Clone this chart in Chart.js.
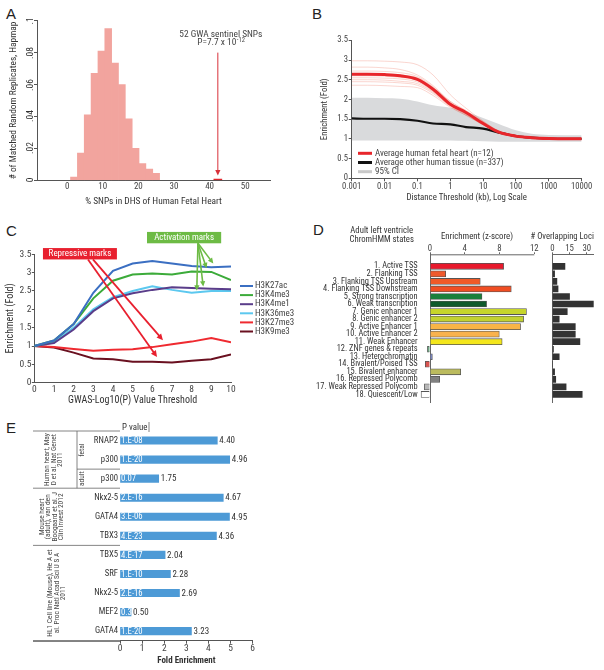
<!DOCTYPE html>
<html>
<head>
<meta charset="utf-8">
<script src="https://cdn.jsdelivr.net/npm/chart.js@4.4.1/dist/chart.umd.min.js"></script>
<style>
  body { margin: 0; width: 604px; height: 670px; position: relative; overflow: hidden; background: #fff; }
  canvas { position: absolute; }
  .letter { position: absolute; font: 15px 'Liberation Sans', Arial, sans-serif; line-height: 15px; color: #222; }
  .rtick { position: absolute; transform: translate(-50%, -50%) rotate(-90deg); font-size: 9.5px; line-height: 1;
    color: #333; white-space: nowrap; font-family: 'Roboto Condensed', 'Open Sans', sans-serif; }
</style>
</head>
<body>
<div class="letter" style="left:6px;top:6px">A</div>
<div class="letter" style="left:312px;top:6px">B</div>
<div class="letter" style="left:6px;top:223px">C</div>
<div class="letter" style="left:313px;top:222px">D</div>
<div class="letter" style="left:6px;top:420px">E</div>
<script>
// ---- A: histogram of random replicates
const snpPctA = [1.92, 3.85, 5.77, 7.69, 9.62, 11.54, 13.46, 15.38, 17.31, 19.23, 21.15, 23.08, 25.0];
const freqA = [0.002, 0.017, 0.041, 0.067, 0.081, 0.095, 0.0735, 0.060, 0.0385, 0.020, 0.0105, 0.007, 0.0044];
const sentinelPctA = 42.31;
const sentinelFreqA = 0.0008;
const xTicksA = [0, 10, 20, 30, 40, 50];
const yTicksA = [0, 0.02, 0.04, 0.06, 0.08, 0.1];
const yTickLabelsA = ['0', '.02', '.04', '.06', '.08', '.1'];

// ---- B: enrichment vs distance threshold
const distB = [0.001, 0.003, 0.01, 0.03, 0.1, 0.3, 1, 3, 10, 30, 100, 300, 1000, 10000];
const fetalMeanB = [2.64, 2.64, 2.63, 2.6, 2.51, 2.26, 1.88, 1.67, 1.39, 1.17, 1.07, 1.03, 1.01, 1.0];
const otherMeanB = [1.52, 1.51, 1.51, 1.5, 1.46, 1.39, 1.37, 1.3, 1.26, 1.16, 1.07, 1.03, 1.01, 1.0];
const ciUpperB = [2.04, 2.04, 2.03, 2.02, 1.95, 1.85, 1.79, 1.68, 1.53, 1.38, 1.22, 1.13, 1.1, 1.09];
const ciLowerB = [0.96, 0.96, 0.96, 0.96, 0.96, 0.96, 0.96, 0.95, 0.94, 0.93, 0.93, 0.93, 0.93, 0.93];
const fetalSamplesB = [
  [2.98, 2.98, 2.97, 2.95, 2.88, 2.62, 2.12, 1.78, 1.45, 1.2, 1.08, 1.03, 1.01, 1.0],
  [2.82, 2.82, 2.8, 2.76, 2.62, 2.35, 1.95, 1.7, 1.42, 1.19, 1.07, 1.03, 1.01, 1.0],
  [2.72, 2.72, 2.71, 2.68, 2.58, 2.32, 1.92, 1.68, 1.4, 1.18, 1.07, 1.03, 1.01, 1.0],
  [2.66, 2.66, 2.65, 2.62, 2.55, 2.3, 1.95, 1.72, 1.44, 1.2, 1.08, 1.03, 1.01, 1.0],
  [2.6, 2.6, 2.59, 2.56, 2.48, 2.22, 1.88, 1.66, 1.4, 1.18, 1.07, 1.03, 1.01, 1.0],
  [2.55, 2.55, 2.54, 2.52, 2.44, 2.2, 1.85, 1.64, 1.38, 1.18, 1.07, 1.03, 1.01, 1.0],
  [2.5, 2.5, 2.49, 2.46, 2.4, 2.18, 1.84, 1.62, 1.37, 1.17, 1.07, 1.03, 1.01, 1.0],
  [2.45, 2.45, 2.44, 2.42, 2.36, 2.15, 1.82, 1.6, 1.36, 1.17, 1.06, 1.03, 1.01, 1.0],
  [2.36, 2.36, 2.35, 2.33, 2.3, 2.1, 1.8, 1.6, 1.36, 1.17, 1.06, 1.03, 1.01, 1.0]
];
const xTicksB = [0.001, 0.01, 0.1, 1, 10, 100, 1000, 10000];
const xTickLabelsB = ['0.001', '0.01', '0.1', '1', '10', '100', '1000', '10000'];
const legendB = ['Average human fetal heart (n=12)', 'Average other human tissue (n=337)', '95% CI'];

// ---- C: histone marks vs GWAS threshold
const thresholdC = [0, 1, 2, 3, 4, 5, 6, 7, 8, 9, 10];
const marksC = ['H3K27ac', 'H3K4me3', 'H3K4me1', 'H3K36me3', 'H3K27me3', 'H3K9me3'];
const h3k27acC = [1.0, 1.15, 1.6, 2.45, 3.05, 3.25, 3.32, 3.25, 3.18, 3.15, 3.17];
const h3k4me3C = [1.0, 1.15, 1.6, 2.3, 2.78, 2.95, 2.98, 2.95, 3.03, 3.02, 2.8];
const h3k4me1C = [1.0, 1.08, 1.45, 1.95, 2.3, 2.44, 2.53, 2.6, 2.58, 2.56, 2.55];
const h3k36me3C = [1.0, 1.1, 1.5, 2.0, 2.33, 2.5, 2.63, 2.53, 2.45, 2.5, 2.5];
const h3k27me3C = [1.0, 0.97, 0.92, 0.87, 0.9, 0.91, 0.97, 1.05, 1.12, 1.22, 1.1];
const h3k9me3C = [1.0, 0.96, 0.82, 0.66, 0.64, 0.57, 0.57, 0.55, 0.6, 0.64, 0.77];
const colorsC = ['#3b6fc2', '#3cab3a', '#5a3d8a', '#5cc8ef', '#ef2a30', '#6a1020'];

// ---- D: ChromHMM states
const statesD = ['1. Active TSS', '2. Flanking TSS', '3. Flanking TSS Upstream', '4. Flanking TSS Downstream',
  '5. Strong transcription', '6. Weak transcription', '7. Genic enhancer 1', '8. Genic enhancer 2',
  '9. Active Enhancer 1', '10. Active Enhancer 2', '11. Weak Enhancer', '12. ZNF genes & repeats',
  '13. Heterochromatin', '14. Bivalent/Poised TSS', '15. Bivalent enhancer', '16. Repressed Polycomb',
  '17. Weak Repressed Polycomb', '18. Quiescent/Low'];
const enrichD = [8.47, 1.8, 5.78, 9.35, 5.98, 6.51, 11.1, 10.77, 10.42, 7.97, 8.3, -0.3, 0.27, -0.54, 3.53, 1.11, -0.65, -1.03];
const lociD = [11, 2, 4, 5, 15, 36, 13, 6, 20, 20, 24, 1, 6, 0, 2, 3, 12, 26];
const colorsD = ['#e8192c', '#ef5a2d', '#f05a28', '#f04e23', '#1b7f3b', '#0e5a2c', '#c6d52b', '#c2d130',
  '#f8b446', '#f9b24d', '#f3e61c', '#6ea582', '#7b87c6', '#d9534f', '#bbbb5e', '#808080', '#b8b8b8', '#ffffff'];
const xTicksD = [0, 4, 8, 12];
const xTicksLociD = [0, 15, 30];

// ---- E: cardiac TF / p300 binding
const factorsE = ['RNAP2', 'p300', 'p300', 'Nkx2-5', 'GATA4', 'TBX3', 'TBX5', 'SRF', 'Nkx2-5', 'MEF2', 'GATA4'];
const foldE = [4.40, 4.96, 1.75, 4.67, 4.95, 4.36, 2.04, 2.28, 2.69, 0.50, 3.23];
const pValueE = ['1.E-08', '1.E-20', '0.07', '2.E-16', '3.E-06', '4.E-23', '4.E-17', '1.E-10', '2.E-16', '0.3', '1.E-20'];
const studiesE = [
  { first: 0, last: 2, lines: ['Human heart, May', 'D et al. Nat Genet', '2011'] },
  { first: 3, last: 5, lines: ['Mouse heart', '(adult), van den', 'Boogaard et al. J', 'Clin Invest 2012'] },
  { first: 6, last: 10, lines: ['HL1 Cell line (Mouse), He A et', 'al. Proc Natl Acad Sci U S A', '2011'] }
];
const stagesE = [{ first: 0, last: 1, text: 'fetal' }, { first: 2, last: 2, text: 'adult' }];

const FONT = "'Roboto Condensed','Open Sans',sans-serif";
const AX = '#555';
const TXT = '#444';
Chart.defaults.font.family = FONT;
Chart.defaults.font.size = 9;
Chart.defaults.color = TXT;
Chart.defaults.animation = false;
Chart.defaults.responsive = false;
Chart.defaults.plugins.legend.display = false;
Chart.defaults.plugins.tooltip.enabled = false;
Chart.defaults.elements.point.radius = 0;

function makeCanvas(left, top, w, h) {
  const c = document.createElement('canvas');
  c.width = w; c.height = h;
  c.style.left = left + 'px'; c.style.top = top + 'px';
  document.body.appendChild(c);
  return c;
}

function drawArrow(ctx, x1, y1, x2, y2, color, width, head) {
  const a = Math.atan2(y2 - y1, x2 - x1);
  ctx.save();
  ctx.strokeStyle = color; ctx.fillStyle = color; ctx.lineWidth = width;
  ctx.beginPath();
  ctx.moveTo(x1, y1);
  ctx.lineTo(x2 - Math.cos(a) * head * 0.7, y2 - Math.sin(a) * head * 0.7);
  ctx.stroke();
  ctx.beginPath();
  ctx.moveTo(x2, y2);
  ctx.lineTo(x2 - head * Math.cos(a - 0.45), y2 - head * Math.sin(a - 0.45));
  ctx.lineTo(x2 - head * Math.cos(a + 0.45), y2 - head * Math.sin(a + 0.45));
  ctx.closePath();
  ctx.fill();
  ctx.restore();
}

const tickList = arr => s => { s.ticks = arr.map(v => ({ value: v })); };
const plainNum = v => String(+(+v).toFixed(2));

// ================= A =================
const chartA = new Chart(makeCanvas(0, 0, 300, 212), {
  type: 'bar',
  data: {
    datasets: [
      { data: snpPctA.map((x, i) => ({ x: x, y: freqA[i] })), backgroundColor: '#f2a49e',
        barPercentage: 1, categoryPercentage: 1, grouped: false },
      { data: [{ x: sentinelPctA, y: sentinelFreqA }], backgroundColor: '#e0282e', barThickness: 8, grouped: false }
    ]
  },
  options: {
    layout: { padding: { top: 20.7, right: 30, left: 0, bottom: 0 } },
    scales: {
      x: {
        type: 'linear', min: -3, max: 51.5,
        afterBuildTicks: tickList(xTicksA),
        afterFit: s => { s.height = 31.7; },
        grid: { drawOnChartArea: false, drawTicks: false, color: AX },
        border: { color: AX },
        ticks: { padding: 1, font: { size: 9 }, maxRotation: 0 },
        title: { display: true, text: '% SNPs in DHS of Human Fetal Heart', color: '#333',
          font: { size: 9.4 }, padding: { top: 0, bottom: 4.7 } }
      },
      y: {
        min: 0, max: 0.1,
        afterBuildTicks: tickList(yTicksA),
        afterFit: s => { s.width = 37; },
        ticks: { display: false },
        grid: { drawOnChartArea: false, tickLength: 3, color: AX },
        border: { color: AX },
        title: { display: true, text: '# of Matched Random Replicates, Hapmap', color: '#333',
          font: { size: 9.4 }, padding: { top: 8.4, bottom: 0 } }
      }
    }
  },
  plugins: [{
    id: 'annA',
    afterDraw(chart) {
      const { ctx, scales: { x, y } } = chart;
      ctx.save();
      ctx.textAlign = 'center';
      ctx.textBaseline = 'middle';
      const sx = x.getPixelForValue(sentinelPctA);
      drawArrow(ctx, sx, y.getPixelForValue(0.08), sx, y.getPixelForValue(0.003), '#d8313a', 1, 6);
      ctx.fillStyle = TXT;
      ctx.font = '9.4px ' + FONT;
      ctx.fillText('52 GWA sentinel SNPs', sx + 3, y.getPixelForValue(0.091));
      const base = 'P=7.7 x 10', sup = '-12';
      const wb = ctx.measureText(base).width;
      ctx.font = '6.5px ' + FONT;
      const ws = ctx.measureText(sup).width;
      const left = sx + 3 - (wb + ws) / 2;
      const ly = y.getPixelForValue(0.086);
      ctx.textAlign = 'left';
      ctx.font = '9.4px ' + FONT;
      ctx.fillText(base, left, ly);
      ctx.font = '6.5px ' + FONT;
      ctx.fillText(sup, left + wb + 0.5, ly - 3);
      ctx.restore();
    }
  }]
});

// rotated y tick labels of A, placed through the chart's own y scale
yTicksA.forEach((v, i) => {
  const d = document.createElement('div');
  d.className = 'rtick';
  d.textContent = yTickLabelsA[i];
  d.style.left = '29.5px';
  d.style.top = chartA.scales.y.getPixelForValue(v) + 'px';
  document.body.appendChild(d);
});

// ================= B =================
const pts = arr => distB.map((d, i) => ({ x: d, y: arr[i] }));
const datasetsB = [
  { data: pts(fetalMeanB), borderColor: '#e8262b', borderWidth: 3, cubicInterpolationMode: 'monotone' },
  { data: pts(otherMeanB), borderColor: '#111', borderWidth: 2.2, cubicInterpolationMode: 'monotone' }
];
fetalSamplesB.forEach(s => datasetsB.push({ data: pts(s), borderColor: 'rgba(236,100,80,0.45)', borderWidth: 0.6,
  cubicInterpolationMode: 'monotone' }));
datasetsB.push({ data: pts(ciUpperB), borderWidth: 0, borderColor: 'rgba(0,0,0,0)', backgroundColor: '#d9dadc',
  fill: '+1', cubicInterpolationMode: 'monotone' });
datasetsB.push({ data: pts(ciLowerB), borderWidth: 0, borderColor: 'rgba(0,0,0,0)', fill: false,
  cubicInterpolationMode: 'monotone' });

new Chart(makeCanvas(300, 0, 304, 212), {
  type: 'line',
  data: { datasets: datasetsB },
  options: {
    layout: { padding: { top: 40.3, right: 22.3, left: 0, bottom: 0 } },
    scales: {
      x: {
        type: 'logarithmic', min: 0.001, max: 10000,
        afterBuildTicks: tickList(xTicksB),
        afterFit: s => { s.height = 33.7; },
        grid: { drawOnChartArea: false, tickLength: 3, color: AX },
        border: { color: AX },
        ticks: { padding: 0.3, font: { size: 8.6 }, maxRotation: 0, autoSkip: false,
          callback: (v, i) => xTickLabelsB[i] },
        title: { display: true, text: 'Distance Threshold (kb), Log Scale', color: '#333',
          font: { size: 8.8 }, padding: { top: 0, bottom: 9 } }
      },
      y: {
        min: 0, max: 3.5,
        ticks: { stepSize: 0.5, padding: 0.7, font: { size: 8.6 }, callback: plainNum },
        afterFit: s => { s.width = 51.7; },
        grid: { drawOnChartArea: false, tickLength: 3, color: AX },
        border: { color: AX },
        title: { display: true, text: 'Enrichment (Fold)', color: '#333',
          font: { size: 8.8 }, padding: { top: 19.2, bottom: 0 } }
      }
    }
  },
  plugins: [{
    id: 'legB',
    afterDraw(chart) {
      const { ctx, chartArea } = chart;
      const cols = ['#e8262b', '#111', '#c9c9c9'];
      ctx.save();
      ctx.font = '9px ' + FONT;
      ctx.textBaseline = 'middle';
      ctx.fillStyle = TXT;
      legendB.forEach((t, i) => {
        const y = 153.3 + i * 9.2;
        ctx.strokeStyle = cols[i];
        ctx.lineWidth = 3;
        ctx.beginPath();
        ctx.moveTo(chartArea.left + 6.3, y);
        ctx.lineTo(chartArea.left + 20.3, y);
        ctx.stroke();
        ctx.fillText(t, chartArea.left + 23.3, y);
      });
      ctx.restore();
    }
  }]
});

// ================= C =================
const seriesC = [h3k27acC, h3k4me3C, h3k4me1C, h3k36me3C, h3k27me3C, h3k9me3C];
new Chart(makeCanvas(0, 212, 300, 200), {
  type: 'line',
  data: {
    datasets: seriesC.map((s, i) => ({ label: marksC[i], data: thresholdC.map((t, j) => ({ x: t, y: s[j] })),
      borderColor: colorsC[i], borderWidth: 2, tension: 0 }))
  },
  options: {
    layout: { padding: { top: 42.3, right: 69, left: 0, bottom: 0 } },
    scales: {
      x: {
        type: 'linear', min: 0, max: 10,
        ticks: { stepSize: 1, padding: 0.9, font: { size: 9.5 }, maxRotation: 0 },
        afterFit: s => { s.height = 29.3; },
        grid: { drawOnChartArea: false, drawTicks: false, color: AX },
        border: { color: AX },
        title: { display: true, text: 'GWAS-Log10(P) Value Threshold', color: '#333',
          font: { size: 10 }, padding: { top: 0, bottom: 5.3 } }
      },
      y: {
        min: 0, max: 3.5,
        ticks: { stepSize: 0.5, padding: 0.3, font: { size: 9.5 }, callback: plainNum },
        afterFit: s => { s.width = 34.3; },
        grid: { drawOnChartArea: false, tickLength: 2.5, color: AX },
        border: { color: AX },
        title: { display: true, text: 'Enrichment (Fold)', color: '#333',
          font: { size: 10 }, padding: { top: 4, bottom: 0 } }
      }
    }
  },
  plugins: [{
    id: 'annC',
    afterDraw(chart) {
      const { ctx, scales: { x, y } } = chart;
      const px = v => x.getPixelForValue(v), py = v => y.getPixelForValue(v);
      ctx.save();
      // legend
      ctx.font = '9px ' + FONT;
      ctx.textBaseline = 'middle';
      marksC.forEach((m, i) => {
        const ly = 74 + i * 9.1;
        ctx.strokeStyle = colorsC[i];
        ctx.lineWidth = 2;
        ctx.beginPath(); ctx.moveTo(240, ly); ctx.lineTo(253, ly); ctx.stroke();
        ctx.fillStyle = TXT;
        ctx.fillText(m, 255, ly);
      });
      // annotation boxes
      ctx.textAlign = 'center';
      ctx.fillStyle = '#6dbb45';
      ctx.fillRect(px(5.73), py(4.11), px(9.5) - px(5.73), py(3.8) - py(4.11));
      ctx.fillStyle = '#fff';
      ctx.fillText('Activation marks', (px(5.73) + px(9.5)) / 2, (py(4.11) + py(3.8)) / 2);
      ctx.fillStyle = '#e8202f';
      ctx.fillRect(px(0.44), py(3.67), px(4.2) - px(0.44), py(3.36) - py(3.67));
      ctx.fillStyle = '#fff';
      ctx.fillText('Repressive marks', (px(0.44) + px(4.2)) / 2, (py(3.67) + py(3.36)) / 2);
      // arrows
      [[9.1, 3.25], [8.76, 3.12], [8.59, 2.62], [8.26, 2.51]].forEach(e =>
        drawArrow(ctx, px(8.32), py(3.8), px(e[0]), py(e[1]), '#6dbb45', 1.6, 6));
      drawArrow(ctx, px(2.73), py(3.36), px(6.24), py(0.70), '#e8202f', 1.8, 7);
      drawArrow(ctx, px(2.98), py(3.36), px(6.54), py(1.16), '#e8202f', 1.8, 7);
      ctx.restore();
    }
  }]
});

// ================= D =================
const rowTicksD = statesD.map((s, i) => i);
new Chart(makeCanvas(300, 212, 240, 200), {
  type: 'bar',
  data: {
    datasets: [{
      data: enrichD.map((v, i) => ({ x: v, y: i })),
      backgroundColor: colorsD, borderColor: '#555', borderWidth: 0.8, barThickness: 6
    }]
  },
  options: {
    indexAxis: 'y',
    layout: { padding: { top: 0, right: 5.7, left: 0, bottom: 9 } },
    scales: {
      x: {
        type: 'linear', position: 'top', min: -1.2, max: 12,
        afterBuildTicks: tickList(xTicksD),
        afterFit: s => { s.height = 42.3; },
        grid: { color: c => c.tick && c.tick.value === 0 ? '#666' : 'rgba(0,0,0,0)', tickColor: '#666', tickLength: 2 },
        border: { display: false },
        ticks: { padding: -1.7, font: { size: 8.8 }, maxRotation: 0 },
        title: { display: true, text: 'Enrichment (z-score)', color: '#333', font: { size: 8.8 },
          padding: { top: 20, bottom: 0 } }
      },
      y: {
        type: 'linear', reverse: true, min: -1.05, max: 17.59,
        afterBuildTicks: tickList(rowTicksD),
        afterFit: s => { s.width = 119.6; },
        grid: { display: false, drawTicks: false },
        border: { display: false },
        ticks: { padding: 2, font: { size: 8.4 }, color: '#333', autoSkip: false, callback: v => statesD[v] }
      }
    }
  },
  plugins: [{
    id: 'axD',
    afterDraw(chart) {
      const { ctx, chartArea, scales: { x } } = chart;
      ctx.save();
      ctx.strokeStyle = '#666'; ctx.lineWidth = 1;
      ctx.beginPath();
      ctx.moveTo(x.getPixelForValue(0), chartArea.top + 0.5);
      ctx.lineTo(x.getPixelForValue(12), chartArea.top + 0.5);
      ctx.stroke();
      ctx.fillStyle = '#333';
      ctx.font = '8.7px ' + FONT;
      ctx.textAlign = 'center'; ctx.textBaseline = 'middle';
      ctx.fillText('Adult left ventricle', 81.7, 19);
      ctx.fillText('ChromHMM states', 81.7, 27.5);
      ctx.restore();
    }
  }]
});

new Chart(makeCanvas(515, 212, 89, 200), {
  type: 'bar',
  data: {
    datasets: [{ data: lociD.map((v, i) => ({ x: v, y: i })), backgroundColor: '#333', barThickness: 6 }]
  },
  options: {
    indexAxis: 'y',
    layout: { padding: { top: 0, right: 10.3, left: 0, bottom: 9 } },
    scales: {
      x: {
        type: 'linear', position: 'top', min: 0, max: 36,
        afterBuildTicks: tickList(xTicksLociD),
        afterFit: s => { s.height = 42.3; },
        grid: { color: c => c.tick && c.tick.value === 0 ? '#666' : 'rgba(0,0,0,0)', tickColor: '#666', tickLength: 2 },
        border: { color: '#666' },
        ticks: { padding: -1.7, font: { size: 8.8 }, maxRotation: 0 }
      },
      y: {
        type: 'linear', reverse: true, min: -1.05, max: 17.59,
        afterBuildTicks: tickList(rowTicksD),
        afterFit: s => { s.width = 37.3; },
        grid: { display: false, drawTicks: false },
        border: { display: false },
        ticks: { display: false }
      }
    }
  },
  plugins: [{
    id: 'titleLoci',
    afterDraw(chart) {
      const { ctx } = chart;
      ctx.save();
      ctx.fillStyle = '#333';
      ctx.font = '8.6px ' + FONT;
      ctx.textAlign = 'left'; ctx.textBaseline = 'middle';
      ctx.fillText('# Overlapping Loci', 15.5, 25.3);
      ctx.restore();
    }
  }]
});

// ================= E =================
new Chart(makeCanvas(0, 412, 300, 258), {
  type: 'bar',
  data: {
    labels: factorsE,
    datasets: [{ data: foldE, backgroundColor: '#4d9ad6', barThickness: 7.5 }]
  },
  options: {
    indexAxis: 'y',
    layout: { padding: { top: 19, right: 47.3, left: 0, bottom: 0 } },
    scales: {
      x: {
        type: 'linear', min: 0, max: 6,
        ticks: { stepSize: 1, padding: -1.1, font: { size: 9.5 }, maxRotation: 0 },
        afterFit: s => { s.height = 29.3; },
        grid: { drawOnChartArea: false, tickLength: 3, color: AX },
        border: { color: AX },
        title: { display: true, text: 'Fold Enrichment', color: '#333', font: { size: 9, weight: 'bold' },
          padding: { top: 0, bottom: 3.6 } }
      },
      y: {
        afterFit: s => { s.width = 120; },
        grid: { display: false, drawTicks: false },
        border: { display: false },
        ticks: { padding: 2, font: { size: 8.7 }, color: '#333', autoSkip: false }
      }
    }
  },
  plugins: [{
    id: 'tableE',
    afterDraw(chart) {
      const { ctx, chartArea, scales: { x, y } } = chart;
      const edge = i => i < 0 ? chartArea.top : i >= factorsE.length - 1 ? chartArea.bottom
        : (y.getPixelForValue(i) + y.getPixelForValue(i + 1)) / 2;
      const tableLeft = 33, stageLeft = 77;
      ctx.save();
      ctx.strokeStyle = '#666'; ctx.lineWidth = 0.8;
      const hline = (x1, x2, yy) => { ctx.beginPath(); ctx.moveTo(x1, yy); ctx.lineTo(x2, yy); ctx.stroke(); };
      const vline = (xx, y1, y2) => { ctx.beginPath(); ctx.moveTo(xx, y1); ctx.lineTo(xx, y2); ctx.stroke(); };
      hline(tableLeft, chartArea.left, chartArea.top);
      studiesE.forEach(g => hline(tableLeft, chartArea.left, edge(g.last)));
      vline(stageLeft, chartArea.top, edge(stagesE[stagesE.length - 1].last));
      hline(stageLeft, chartArea.left, edge(stagesE[0].last));
      // header
      ctx.fillStyle = '#333';
      ctx.font = '8.9px ' + FONT;
      ctx.textBaseline = 'middle';
      ctx.fillText('P value', chartArea.left + 2, chartArea.top - 3.3);
      vline(149, chartArea.top - 9, chartArea.top + 1);
      // rotated group labels
      ctx.textAlign = 'center';
      ctx.font = '7.4px ' + FONT;
      ctx.fillStyle = TXT;
      const rot = (lines, cx, cy, lh) => {
        lines.forEach((t, j) => {
          ctx.save();
          ctx.translate(cx + (j - (lines.length - 1) / 2) * lh, cy);
          ctx.rotate(-Math.PI / 2);
          ctx.fillText(t, 0, 0);
          ctx.restore();
        });
      };
      const studyX = [54, 51.5, 57];
      studiesE.forEach((g, k) => rot(g.lines, studyX[k], (edge(g.first - 1) + edge(g.last)) / 2, 6.5));
      stagesE.forEach(s => rot([s.text], 82, (edge(s.first - 1) + edge(s.last)) / 2, 0));
      // bar labels
      ctx.textAlign = 'left';
      foldE.forEach((v, i) => {
        const yy = y.getPixelForValue(i);
        ctx.font = '8.7px ' + FONT;
        ctx.fillStyle = '#fff';
        ctx.fillText(pValueE[i], x.getPixelForValue(0) + 1, yy + 0.5);
        ctx.font = '9px ' + FONT;
        ctx.fillStyle = '#333';
        ctx.fillText(v.toFixed(2), x.getPixelForValue(v) + 2, yy + 0.5);
      });
      // extend the x axis under the table
      ctx.strokeStyle = AX; ctx.lineWidth = 1;
      hline(tableLeft, chartArea.left, chartArea.bottom + 0.5);
      ctx.restore();
    }
  }]
});
</script>
</body>
</html>
